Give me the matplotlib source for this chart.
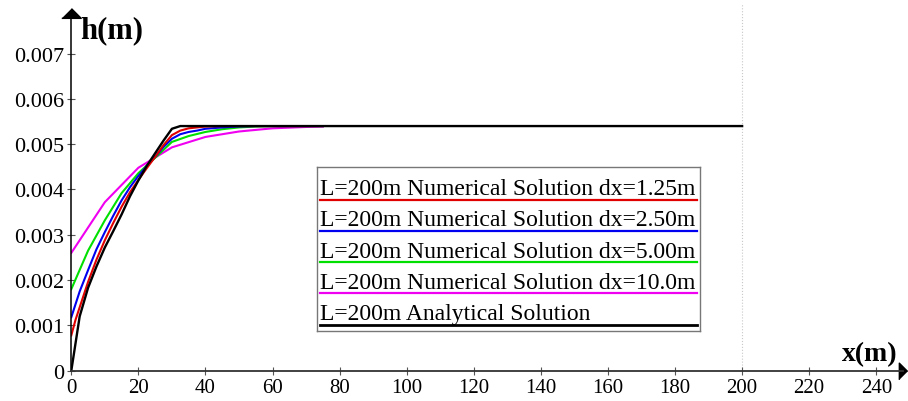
import matplotlib
matplotlib.use("Agg")
import matplotlib.pyplot as plt

plt.rcParams["font.family"] = ["Liberation Serif", "DejaVu Serif"]

# analytical solution (L=200m)
x_ana = [0, 2.5, 5, 7.5, 10, 12.5, 15, 17.5, 20, 22.5, 25, 27.5, 30, 32.5, 200]
h_ana = [0, 0.0012, 0.00183, 0.00230, 0.00272, 0.00308, 0.00345, 0.00385, 0.00420,
         0.00452, 0.00480, 0.00508, 0.00534, 0.0054, 0.0054]

# numerical solutions
x_dx125 = [0, 1.25, 2.5, 5, 7.5, 10, 12.5, 15, 17.5, 20, 22.5, 25, 27.5, 30, 32.5, 35,
           37.5, 40, 45, 50, 55, 60, 65, 70, 75]
h_dx125 = [0.00078, 0.00112, 0.00140, 0.00196, 0.00245, 0.00288, 0.00326, 0.00362,
           0.00394, 0.00421, 0.00447, 0.00472, 0.00498, 0.00520, 0.00530, 0.00535,
           0.00537, 0.00539, 0.0054, 0.0054, 0.0054, 0.0054, 0.0054, 0.0054, 0.0054]

x_dx250 = [0, 2.5, 5, 7.5, 10, 12.5, 15, 17.5, 20, 22.5, 25, 27.5, 30, 32.5, 35, 37.5,
           40, 45, 50, 55, 60, 65, 70, 75]
h_dx250 = [0.00118, 0.00175, 0.00222, 0.00268, 0.00306, 0.00342, 0.00376, 0.00405,
           0.00430, 0.00452, 0.00472, 0.00494, 0.00512, 0.00522, 0.00527, 0.00530,
           0.00534, 0.00537, 0.00539, 0.0054, 0.0054, 0.0054, 0.0054, 0.0054]

x_dx500 = [0, 5, 10, 15, 20, 25, 30, 35, 40, 45, 50, 55, 60, 65, 70, 75]
h_dx500 = [0.0018, 0.00265, 0.00332, 0.00392, 0.00436, 0.00470, 0.00505, 0.00518,
           0.00527, 0.00533, 0.00537, 0.00539, 0.0054, 0.0054, 0.0054, 0.0054]

x_dx100 = [0, 10, 20, 30, 40, 50, 60, 70, 75]
h_dx100 = [0.0026, 0.00372, 0.00448, 0.00493, 0.00516, 0.00528, 0.00535, 0.00538, 0.00539]

x_ticks = [0, 20, 40, 60, 80, 100, 120, 140, 160, 180, 200, 220, 240]
y_ticks = [0, 0.001, 0.002, 0.003, 0.004, 0.005, 0.006, 0.007]
y_tick_labels = ["0", "0.001", "0.002", "0.003", "0.004", "0.005", "0.006", "0.007"]

legend_labels = [
    "L=200m Numerical Solution dx=1.25m",
    "L=200m Numerical Solution dx=2.50m",
    "L=200m Numerical Solution dx=5.00m",
    "L=200m Numerical Solution dx=10.0m",
    "L=200m Analytical Solution",
]
c_red, c_blue, c_green, c_mag, c_black = "#e00000", "#0000f0", "#00e000", "#f000f0", "#000000"
legend_colors = [c_red, c_blue, c_green, c_mag, c_black]

W, H = 908, 402
fig = plt.figure(figsize=(W / 100, H / 100), dpi=100)
ax = fig.add_axes([71.3 / W, 30.3 / H, 831.8 / W, 357.9 / H])

ax.plot(x_dx100, h_dx100, color=c_mag, lw=1.5)
ax.plot(x_dx500, h_dx500, color=c_green, lw=1.5)
ax.plot(x_dx250, h_dx250, color=c_blue, lw=1.5)
ax.plot(x_dx125, h_dx125, color=c_red, lw=1.5)
ax.plot(x_ana, h_ana, color=c_black, lw=1.7)

ax.axvline(200, ymin=0, ymax=1.025, color="#c8c8c8", lw=0.8, ls=":", clip_on=False, zorder=0)

ax.set_xlim(0, 248)
ax.set_ylim(0, 0.0079)
ax.set_xticks(x_ticks)
ax.set_yticks(y_ticks)
ax.set_yticklabels(y_tick_labels)

for side in ("top", "right"):
    ax.spines[side].set_visible(False)
ax.spines["left"].set_color("black")
ax.spines["left"].set_linewidth(1.1)
ax.spines["bottom"].set_color("#333333")
ax.spines["bottom"].set_linewidth(1.3)
ax.tick_params(direction="inout", length=6, width=0.8, color="#555555", pad=2)
ax.tick_params(axis="x", labelsize=15)
ax.tick_params(axis="y", labelsize=16)

# arrow heads on the axes
ax.plot(0, 1, marker=[(-1, -0.5), (1, -0.5), (0, 0.5)], ms=14, color="black",
        transform=ax.get_xaxis_transform(), clip_on=False)
ax.plot(1, 0, marker=[(-0.5, -1), (-0.5, 1), (0.5, 0)], ms=12, color="black",
        transform=ax.get_yaxis_transform(), clip_on=False)

fig.text(80 / W, 1 - 30.5 / H, "h(m)", fontsize=22, fontweight="bold", ha="left", va="center")
fig.text(870 / W, 1 - 355 / H, "x(m)", fontsize=20, fontweight="bold", ha="center", va="center")

# legend box: text with a coloured line underneath each entry
lax = fig.add_axes([317 / W, 70 / H, 383 / W, 164 / H])
lax.set_xlim(0, 383)
lax.set_ylim(164, 0)
lax.set_xticks([])
lax.set_yticks([])
for sp in lax.spines.values():
    sp.set_color("#777777")
    sp.set_linewidth(1.0)
for i, (label, col) in enumerate(zip(legend_labels, legend_colors)):
    y_line = 32.7 + i * 31.25
    lax.plot([3, 380], [y_line, y_line], color=col, lw=1.6 if i < 4 else 2.0)
    lax.text(3, y_line - 5.5, label, fontsize=17, ha="left", va="baseline")

fig.savefig("out.png", dpi=100)
